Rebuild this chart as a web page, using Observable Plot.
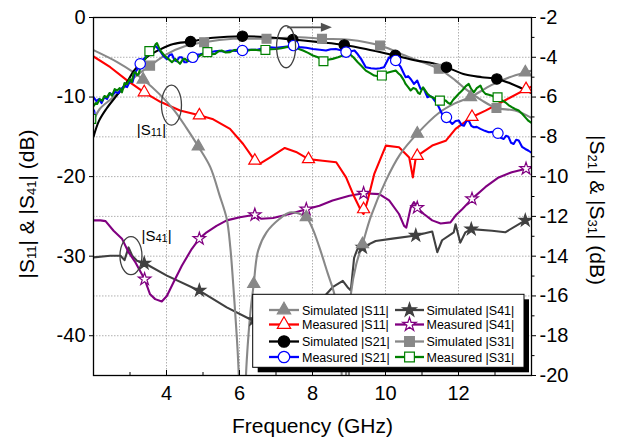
<!DOCTYPE html>
<html><head><meta charset="utf-8">
<script src="https://cdn.jsdelivr.net/npm/d3@7"></script>
<script src="https://cdn.jsdelivr.net/npm/@observablehq/plot@0.6"></script>
<style>body{margin:0;background:#fff} svg{display:block}</style>
</head><body><div id="chart"></div>
<script>
const FONT = "'Liberation Sans', Arial, Helvetica, sans-serif";

// ---------- data (frequency GHz, dB) ----------
// left axis series: |S11|, |S41|
const simS11 = [[2.0,-4.1],[2.65,-5.6],[3.1,-6.9],[3.36,-7.8],[3.8,-9.6],[4.2,-11.6],[4.55,-13.9],[4.87,-16.2],[5.2,-18.8],[5.45,-22.3],[5.65,-25.3],[5.75,-29],[5.85,-35],[5.95,-42],[6.05,-52],[6.1,-55],[6.15,-48],[6.2,-43],[6.3,-37],[6.39,-33.5],[6.51,-29.3],[6.74,-27.0],[7.1,-25.3],[7.37,-24.5],[7.6,-24.6],[7.83,-25.1],[8.0,-26.5],[8.19,-28.9],[8.42,-32.2],[8.6,-34.8],[8.75,-40],[8.85,-50],[8.95,-42],[9.05,-34.8],[9.2,-31],[9.37,-28.5],[9.6,-25.0],[10.01,-20.5],[10.4,-17.2],[10.87,-14.6],[11.46,-12.0],[11.9,-10.8],[12.33,-10.0],[12.9,-8.5],[13.4,-7.5],[13.83,-6.9],[14.0,-6.7]];
const simS11Mk = [[3.36,-7.8],[4.87,-16.2],[6.39,-33.5],[7.83,-25.1],[9.37,-28.5],[10.87,-14.6],[12.33,-10.0],[13.83,-6.9]];

const measS11 = [[2.0,-4.9],[2.46,-6.25],[2.92,-7.9],[3.39,-9.4],[3.83,-10.6],[4.37,-11.7],[4.9,-12.3],[5.28,-12.8],[5.74,-14.0],[6.1,-15.9],[6.42,-18.0],[6.55,-18.4],[6.83,-17.6],[7.24,-16.4],[7.55,-16.9],[7.89,-17.8],[8.28,-18.0],[8.65,-18.2],[8.92,-20.1],[9.15,-22.6],[9.33,-24.3],[9.4,-24.7],[9.51,-23.0],[9.69,-19.7],[10.01,-16.1],[10.37,-16.3],[10.65,-17.6],[10.75,-20.1],[10.83,-17.6],[10.87,-17.4],[11.28,-16.1],[11.65,-15.5],[11.92,-14.0],[12.37,-12.5],[12.74,-11.7],[13.28,-10.4],[13.85,-9.0],[14.0,-8.7]];
const measS11Mk = [[3.39,-9.4],[4.9,-12.3],[6.42,-18.0],[7.89,-17.8],[9.4,-24.1],[10.87,-17.4],[12.37,-12.5],[13.85,-9.0]];

const simS41 = [[2.0,-30.15],[2.46,-29.94],[2.74,-29.94],[2.85,-30.5],[2.96,-28.9],[3.06,-29.94],[3.19,-30.57],[3.39,-30.86],[4.01,-32.45],[4.9,-34.34],[5.65,-36.44],[6.28,-37.9],[6.6,-38.3],[7.0,-38.4],[7.5,-37.6],[8.0,-36.5],[8.3,-35.2],[8.55,-33.9],[8.83,-33.1],[8.96,-33.9],[9.05,-34.3],[9.14,-30.2],[9.23,-29.1],[9.37,-28.9],[9.73,-28.1],[10.19,-27.8],[10.83,-27.4],[11.28,-26.9],[11.42,-29.5],[11.55,-28.0],[11.87,-27.0],[11.92,-26.0],[12.05,-28.3],[12.19,-27.0],[12.35,-26.6],[12.92,-26.8],[13.28,-27.0],[13.83,-25.5],[14.0,-25.3]];
const simS41Mk = [[3.39,-30.9],[4.9,-34.3],[6.39,-38.0],[7.9,-36.5],[9.37,-28.9],[10.83,-27.4],[12.35,-26.6],[13.83,-25.5]];

const measS41 = [[2.0,-25.5],[2.19,-25.5],[2.33,-25.6],[2.55,-26.8],[2.78,-27.8],[2.96,-29.5],[3.15,-30.8],[3.4,-32.9],[3.55,-34.8],[3.69,-35.4],[3.87,-35.7],[4.01,-35.0],[4.19,-33.3],[4.42,-31.2],[4.69,-29.1],[4.9,-27.8],[5.1,-27.0],[5.37,-26.2],[5.65,-25.5],[6.01,-25.1],[6.42,-24.8],[6.6,-25.3],[6.92,-25.2],[7.37,-24.7],[7.83,-24.1],[8.19,-23.65],[8.55,-23.0],[9.01,-22.4],[9.4,-22.1],[9.83,-22.2],[10.1,-23.0],[10.37,-24.7],[10.51,-26.2],[10.57,-26.4],[10.69,-23.9],[10.78,-23.2],[10.87,-23.9],[11.05,-24.7],[11.28,-25.5],[11.51,-25.9],[11.78,-25.75],[11.92,-24.9],[12.1,-24.1],[12.37,-22.8],[12.74,-21.3],[13.1,-20.1],[13.46,-19.45],[13.85,-19.0],[14.0,-18.8]];
const measS41Mk = [[3.4,-32.9],[4.9,-27.8],[6.42,-24.8],[7.83,-24.1],[9.4,-22.1],[10.87,-23.9],[12.37,-22.8],[13.85,-19.0]];

// right axis series: |S21|, |S31|
const simS21 = [[2.0,-8.0],[2.15,-7.2],[2.35,-6.6],[2.6,-6.0],[2.9,-5.3],[3.1,-4.7],[3.46,-4.0],[3.83,-3.6],[4.19,-3.33],[4.66,-3.21],[5.28,-3.02],[6.08,-2.94],[6.74,-2.99],[7.46,-3.11],[8.19,-3.24],[8.87,-3.38],[9.46,-3.58],[10.19,-3.88],[10.83,-4.16],[11.3,-4.3],[11.67,-4.5],[12.19,-4.87],[12.64,-5.0],[13.05,-5.09],[13.46,-5.34],[14.0,-5.8]];
const simS21Mk = [[4.66,-3.21],[6.08,-2.94],[7.46,-3.11],[8.87,-3.38],[10.27,-3.9],[11.67,-4.5],[13.05,-5.09]];

const measS21 = [[2.0,-6.0],[2.08,-6.2],[2.15,-6.1],[2.22,-6.3],[2.3,-6.0],[2.37,-6.1],[2.45,-5.8],[2.52,-5.9],[2.6,-5.75],[2.68,-5.8],[2.76,-5.6],[2.84,-5.45],[2.92,-5.5],[3.0,-5.2],[3.07,-5.25],[3.13,-4.8],[3.2,-4.6],[3.28,-4.33],[3.37,-4.1],[3.45,-3.95],[3.52,-3.8],[3.6,-3.6],[3.69,-3.42],[3.76,-3.55],[3.83,-3.7],[3.92,-3.95],[4.01,-4.1],[4.08,-3.9],[4.15,-3.85],[4.22,-4.15],[4.28,-4.2],[4.35,-4.0],[4.42,-4.0],[4.49,-4.25],[4.55,-4.25],[4.63,-4.0],[4.72,-4.0],[4.82,-3.88],[4.92,-3.85],[5.05,-3.8],[5.19,-3.75],[5.33,-3.7],[5.46,-3.68],[5.6,-3.72],[5.74,-3.66],[5.9,-3.68],[6.08,-3.66],[6.25,-3.62],[6.46,-3.63],[6.65,-3.55],[6.83,-3.5],[7.0,-3.52],[7.19,-3.48],[7.35,-3.45],[7.48,-3.41],[7.645,-3.49],[7.83,-3.52],[8.01,-3.58],[8.2,-3.62],[8.37,-3.66],[8.5,-3.6],[8.64,-3.58],[8.78,-3.65],[8.92,-3.74],[9.05,-3.7],[9.15,-3.66],[9.24,-3.85],[9.33,-4.08],[9.46,-4.5],[9.6,-4.55],[9.74,-4.58],[9.85,-4.55],[9.96,-4.5],[10.03,-4.25],[10.1,-4.0],[10.2,-4.1],[10.28,-4.16],[10.42,-4.5],[10.55,-5.0],[10.62,-4.95],[10.69,-5.09],[10.78,-5.34],[10.87,-5.17],[10.96,-5.59],[11.05,-5.59],[11.15,-6.01],[11.22,-5.95],[11.28,-6.01],[11.42,-6.35],[11.55,-6.85],[11.67,-7.02],[11.75,-7.2],[11.83,-7.35],[11.92,-7.2],[12.01,-7.18],[12.08,-7.4],[12.15,-7.44],[12.22,-7.2],[12.28,-7.18],[12.35,-7.45],[12.42,-7.52],[12.5,-7.5],[12.6,-7.6],[12.72,-7.7],[12.83,-7.77],[12.95,-7.75],[13.08,-7.82],[13.16,-8.05],[13.24,-8.11],[13.3,-7.95],[13.37,-8.0],[13.44,-8.3],[13.51,-8.36],[13.58,-8.15],[13.65,-8.19],[13.74,-8.5],[13.83,-8.61],[13.92,-8.7],[14.0,-8.8]];
const measS21Mk = [[1.9,-6.8],[3.28,-4.33],[4.72,-4.0],[6.08,-3.66],[7.48,-3.41],[8.92,-3.74],[10.28,-4.16],[11.67,-7.02],[13.08,-7.82]];

const simS31 = [[2.0,-7.2],[2.17,-6.6],[2.45,-6.15],[2.72,-5.75],[3.0,-5.2],[3.3,-4.75],[3.55,-4.42],[4.0,-3.85],[4.5,-3.45],[5.03,-3.24],[5.83,-3.07],[6.74,-3.07],[7.645,-2.99],[8.26,-3.07],[9.01,-3.12],[9.85,-3.41],[10.65,-4.0],[11.46,-4.58],[11.92,-5.17],[12.19,-5.59],[12.65,-6.18],[13.04,-6.55],[13.55,-6.68],[14.0,-7.05]];
const simS31Mk = [[3.55,-4.42],[5.03,-3.24],[6.74,-3.07],[8.26,-3.07],[9.85,-3.41],[11.46,-4.58],[13.04,-6.55]];

const measS31 = [[2.0,-6.45],[2.06,-6.3],[2.1,-6.35],[2.17,-6.1],[2.24,-6.18],[2.3,-5.95],[2.37,-6.01],[2.44,-5.8],[2.51,-5.93],[2.58,-5.6],[2.65,-5.67],[2.72,-5.55],[2.78,-5.76],[2.85,-5.3],[2.92,-5.34],[2.99,-5.1],[3.05,-5.25],[3.1,-4.8],[3.15,-4.75],[3.2,-4.9],[3.24,-4.83],[3.3,-4.4],[3.33,-4.33],[3.42,-4.08],[3.53,-3.69],[3.6,-3.62],[3.65,-3.58],[3.7,-3.35],[3.74,-3.29],[3.79,-3.5],[3.83,-3.66],[3.94,-3.91],[4.05,-4.08],[4.15,-4.25],[4.24,-4.08],[4.3,-4.2],[4.37,-4.33],[4.45,-4.1],[4.51,-4.08],[4.58,-4.2],[4.65,-4.16],[4.72,-3.95],[4.78,-3.91],[4.85,-4.0],[4.92,-3.91],[5.02,-3.8],[5.12,-3.74],[5.22,-3.85],[5.33,-3.83],[5.42,-3.7],[5.51,-3.66],[5.62,-3.76],[5.74,-3.74],[5.85,-3.64],[5.96,-3.63],[6.08,-3.7],[6.19,-3.69],[6.32,-3.62],[6.46,-3.63],[6.58,-3.66],[6.71,-3.63],[6.86,-3.6],[7.01,-3.58],[7.15,-3.55],[7.28,-3.49],[7.4,-3.47],[7.51,-3.46],[7.645,-3.6],[7.74,-3.66],[7.88,-3.78],[8.01,-3.91],[8.15,-4.0],[8.3,-4.2],[8.42,-4.12],[8.55,-4.08],[8.7,-4.0],[8.83,-3.91],[8.92,-3.85],[9.01,-3.83],[9.12,-4.0],[9.24,-4.25],[9.35,-4.45],[9.46,-4.67],[9.58,-4.8],[9.69,-4.92],[9.8,-4.95],[9.9,-4.92],[10.0,-4.8],[10.1,-4.75],[10.2,-4.7],[10.28,-4.67],[10.35,-4.8],[10.42,-4.92],[10.5,-5.15],[10.55,-5.34],[10.62,-5.5],[10.69,-5.67],[10.76,-5.55],[10.83,-5.59],[10.9,-5.8],[10.94,-5.84],[11.0,-5.6],[11.03,-5.51],[11.1,-5.7],[11.15,-5.84],[11.22,-5.95],[11.28,-6.01],[11.38,-6.1],[11.49,-6.18],[11.57,-6.15],[11.65,-6.18],[11.72,-6.3],[11.78,-6.35],[11.85,-6.15],[11.92,-6.01],[12.0,-5.85],[12.1,-5.67],[12.2,-5.45],[12.28,-5.34],[12.35,-5.6],[12.42,-5.76],[12.5,-5.55],[12.6,-5.42],[12.67,-5.7],[12.74,-5.84],[12.83,-5.88],[12.92,-5.93],[13.07,-6.01],[13.18,-6.15],[13.28,-6.26],[13.37,-6.4],[13.46,-6.51],[13.55,-6.6],[13.65,-6.68],[13.75,-6.85],[13.83,-7.02],[13.92,-7.2],[14.0,-7.3]];
const measS31Mk = [[1.94,-7.1],[3.53,-3.69],[5.12,-3.74],[6.71,-3.63],[8.3,-4.2],[9.9,-4.92],[11.49,-6.18],[13.07,-6.01]];

// ---------- axes / labels ----------
const xDomain = [2, 14];
const leftDomain = [-45, 0];
const rightDomain = [-20, -2];
const xMajor = [4, 6, 8, 10, 12];
const xMinor = [3, 5, 7, 9, 11, 13];
const leftTicks = [0, -10, -20, -30, -40];
const rightTicks = [-2, -4, -6, -8, -10, -12, -14, -16, -18, -20];
const rightMinor = [-3, -5, -7, -9, -11, -13, -15, -17, -19];
const legendNames = ["Simulated |S11|", "Measured |S11|", "Simulated |S21|", "Measured |S21|",
                     "Simulated |S41|", "Measured |S41|", "Simulated |S31|", "Measured |S31|"];
const xTitle = "Frequency (GHz)";

const toLeft = v => leftDomain[0] + (v - rightDomain[0]) * (leftDomain[1] - leftDomain[0]) / (rightDomain[1] - rightDomain[0]);
const fromLeft = y => Math.round((rightDomain[0] + (y - leftDomain[0]) * (rightDomain[1] - rightDomain[0]) / (leftDomain[1] - leftDomain[0])) * 100) / 100;

const series = [
  {key: "simS41", data: simS41, mk: simS41Mk, right: false, color: "#404040", symbol: "star", hollow: false, curve: "linear"},
  {key: "measS41", data: measS41, mk: measS41Mk, right: false, color: "#800080", symbol: "star", hollow: true, curve: "linear"},
  {key: "measS11", data: measS11, mk: measS11Mk, right: false, color: "#ff0000", symbol: "triangle", hollow: true, curve: "linear"},
  {key: "simS11", data: simS11, mk: simS11Mk, right: false, color: "#888888", symbol: "triangle", hollow: false, curve: "catmull-rom"},
  {key: "simS31", data: simS31, mk: simS31Mk, right: true, color: "#888888", symbol: "square", hollow: false, curve: "catmull-rom"},
  {key: "simS21", data: simS21, mk: simS21Mk, right: true, color: "#000000", symbol: "circle", hollow: false, curve: "catmull-rom"},
  {key: "measS21", data: measS21, mk: measS21Mk, right: true, color: "#0000ff", symbol: "circle", hollow: true, curve: "linear"},
  {key: "measS31", data: measS31, mk: measS31Mk, right: true, color: "#008000", symbol: "square", hollow: true, curve: "linear"}
];
const symR = {triangle: 4.5, circle: 5.2, square: 5.0, star: 3.9};

const W = 628, H = 441, mL = 93, mR = 97, mT = 17, mB = 66;
const plotH = H - mT - mB;

const marks = [
  Plot.gridY(rightTicks.slice(1, -1).map(toLeft), {stroke: "#b0b0b0", strokeOpacity: 1, strokeDasharray: "1.5,1.5"}),
  Plot.gridX(xMajor, {stroke: "#b0b0b0", strokeOpacity: 1, strokeDasharray: "1.5,1.5"})
];
for (const s of series) {
  const yy = s.right ? (d => toLeft(d[1])) : (d => d[1]);
  marks.push(Plot.line(s.data, {x: d => d[0], y: yy, stroke: s.color, strokeWidth: 2.1, curve: s.curve, clip: true}));
}
for (const s of series) {
  const yy = s.right ? (d => toLeft(d[1])) : (d => d[1]);
  marks.push(Plot.dot(s.mk, {x: d => d[0], y: yy, symbol: s.symbol, r: symR[s.symbol],
    fill: s.hollow ? "white" : s.color, stroke: s.color, strokeWidth: 1.2, clip: true}));
}
marks.push(
  Plot.frame({stroke: "black", strokeWidth: 1.3}),
  Plot.axisY(leftTicks, {anchor: "left", tickSize: 4, tickPadding: 4, tickFormat: d => String(d), label: null, fontSize: 20}),
  Plot.axisY(rightTicks.map(toLeft), {anchor: "right", tickSize: 4, tickPadding: 4, tickFormat: d => String(fromLeft(d)), label: null, fontSize: 20}),
  Plot.axisY(rightMinor.map(toLeft), {anchor: "right", tickSize: 2.5, tickFormat: () => "", label: null}),
  Plot.axisX(xMajor, {anchor: "bottom", tickSize: 0, tickPadding: 10, tickFormat: d => String(d), label: null, fontSize: 20}),
  Plot.tickX(xMajor, {x: d => d, insetBottom: plotH - 5, stroke: "black"}),
  Plot.tickX(xMajor, {x: d => d, insetTop: plotH - 5, stroke: "black"}),
  Plot.tickX(xMinor, {x: d => d, insetTop: plotH - 3, stroke: "black"})
);

const chart = Plot.plot({
  width: W, height: H,
  marginLeft: mL, marginRight: mR, marginTop: mT, marginBottom: mB,
  style: {fontFamily: FONT, fontSize: "20px", background: "white", color: "black"},
  x: {domain: xDomain},
  y: {domain: leftDomain},
  marks
});
document.getElementById("chart").appendChild(chart);

const sx = chart.scale("x"), sy = chart.scale("y");
const svg = d3.select(chart);

// ---------- axis titles ----------
function subText(g, parts, size, sub) {
  const t = g.append("text").attr("font-family", FONT).attr("font-size", size).attr("fill", "black").attr("text-anchor", "middle");
  parts.forEach(([txt, isSub], i) => {
    const ts = t.append("tspan").text(txt);
    if (isSub) ts.attr("font-size", sub).attr("dy", 2); else if (i > 0) ts.attr("dy", -2);
  });
  return t;
}
const leftParts = [["|S", 0], ["11", 1], ["| & |S", 0], ["41", 1], ["| (dB)", 0]];
const rightParts = [["|S", 0], ["21", 1], ["| & |S", 0], ["31", 1], ["| (dB)", 0]];
subText(svg.append("g").attr("transform", "translate(34,204) rotate(-90)"), leftParts, 21, 13);
subText(svg.append("g").attr("transform", "translate(590,210) rotate(90)"), rightParts, 21, 13);
svg.append("text").attr("x", 312.5).attr("y", 433).attr("text-anchor", "middle")
  .attr("font-family", FONT).attr("font-size", 21).attr("fill", "black").text(xTitle);

// ---------- annotations ----------
const ann = svg.append("g").attr("fill", "none").attr("stroke", "#404040").attr("stroke-width", 1.3);
const ellipses = [{x: 4.15, y: -11.07, rx: 10, ry: 20}, {x: 7.29, y: -3.74, rx: 9.5, ry: 21}, {x: 3.04, y: -30.0, rx: 11, ry: 19}];
for (const e of ellipses) ann.append("ellipse").attr("cx", sx.apply(e.x)).attr("cy", sy.apply(e.y)).attr("rx", e.rx).attr("ry", e.ry);
const arrow = {x1: 7.32, x2: 8.545, y: -1.3};
const ax1 = sx.apply(arrow.x1), ax2 = sx.apply(arrow.x2), ay = sy.apply(arrow.y);
svg.append("line").attr("x1", ax1).attr("x2", ax2 - 6).attr("y1", ay).attr("y2", ay).attr("stroke", "#505050").attr("stroke-width", 1.6);
svg.append("path").attr("d", `M${ax2},${ay} L${ax2 - 11},${ay - 4.5} L${ax2 - 11},${ay + 4.5} Z`).attr("fill", "#505050");
const labels = [{x: 3.2, y: -14.84, parts: [["|S", 0], ["11", 1], ["|", 0]]}, {x: 3.33, y: -28.18, parts: [["|S", 0], ["41", 1], ["|", 0]]}];
for (const l of labels) {
  const t = svg.append("text").attr("x", sx.apply(l.x)).attr("y", sy.apply(l.y)).attr("text-anchor", "start")
    .attr("font-family", FONT).attr("font-size", 15).attr("fill", "black");
  l.parts.forEach(([txt, isSub], i) => {
    const ts = t.append("tspan").text(txt);
    if (isSub) ts.attr("font-size", 11).attr("dy", 1); else if (i > 0) ts.attr("dy", -1);
  });
}

// ---------- legend ----------
const lg = svg.append("g");
const box = {x: 252.7, y: 294.3, w: 271.3, h: 73};
lg.append("rect").attr("x", box.x + 5).attr("y", box.y + 5).attr("width", box.w).attr("height", box.h).attr("fill", "black");
lg.append("rect").attr("x", box.x).attr("y", box.y).attr("width", box.w).attr("height", box.h).attr("fill", "white").attr("stroke", "black").attr("stroke-width", 1);
const rowY = [310, 324.5, 341.5, 357];
const cols = [{x1: 269, x2: 299, tx: 302}, {x1: 395, x2: 424, tx: 426.5}];
const legendOrder = ["simS11", "measS11", "simS21", "measS21", "simS41", "measS41", "simS31", "measS31"];
const symMap = {triangle: d3.symbolTriangle, circle: d3.symbolCircle, square: d3.symbolSquare, star: d3.symbolStar};
legendOrder.forEach((k, i) => {
  const s = series.find(d => d.key === k);
  const c = cols[Math.floor(i / 4)], y = rowY[i % 4];
  lg.append("line").attr("x1", c.x1).attr("x2", c.x2).attr("y1", y).attr("y2", y).attr("stroke", s.color).attr("stroke-width", 2.3);
  const r = symR[s.symbol] * 1.1;
  lg.append("path").attr("transform", `translate(${(c.x1 + c.x2) / 2},${y})`)
    .attr("d", d3.symbol(symMap[s.symbol], Math.PI * r * r)())
    .attr("fill", s.hollow ? "white" : s.color).attr("stroke", s.color).attr("stroke-width", 1.2);
  lg.append("text").attr("x", c.tx).attr("y", y).attr("dy", "0.36em").attr("text-anchor", "start")
    .attr("font-family", FONT).attr("font-size", 12.5).attr("fill", "black").text(legendNames[i]);
});
</script></body></html>
